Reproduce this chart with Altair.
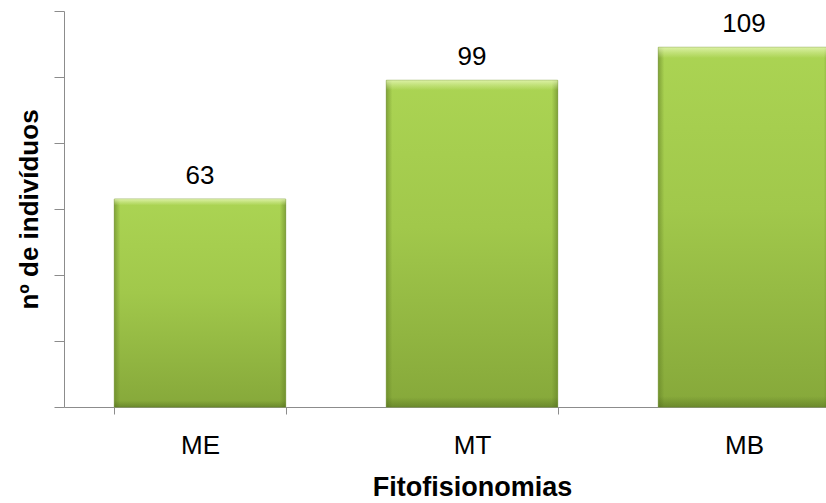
import altair as alt
import pandas as pd

# Número de indivíduos por fitofisionomia
categorias = ["ME", "MT", "MB"]
individuos = [63, 99, 109]
y_ticks = [0, 20, 40, 60, 80, 100, 120]

df = pd.DataFrame({"fito": categorias, "n": individuos})

FONT = "Liberation Sans"
AXIS_GREY = "#8c8c8c"

x_enc = alt.X(
    "fito:N",
    sort=categorias,
    scale=alt.Scale(range=[0, 816], paddingInner=0.37, paddingOuter=0.185),
    axis=alt.Axis(
        title="Fitofisionomias",
        labelAngle=0,
        tickBand="extent",
        tickSize=7,
        tickColor=AXIS_GREY,
        domainColor=AXIS_GREY,
        labelFont=FONT,
        labelFontSize=26,
        labelColor="#000000",
        labelBaseline="alphabetic",
        labelPadding=39,
        titleFont=FONT,
        titleFontSize=27,
        titleFontWeight="bold",
        titleColor="#000000",
        titleX=408,
        titleY=88,
        titleAlign="center",
        titleBaseline="alphabetic",
    ),
)
x_plain = alt.X("fito:N", sort=categorias)

y_enc = alt.Y(
    "n:Q",
    scale=alt.Scale(domain=[0, 120], nice=False),
    axis=alt.Axis(
        title="nº de indivíduos",
        values=y_ticks,
        labels=False,
        grid=False,
        tickSize=10,
        tickColor=AXIS_GREY,
        domainColor=AXIS_GREY,
        titleFont=FONT,
        titleFontSize=26,
        titleFontWeight="bold",
        titleColor="#000000",
        titleX=-27,
        titleY=198,
        titleAngle=270,
        titleAlign="center",
        titleBaseline="alphabetic",
    ),
)

# main fill: light lime on top, darker olive toward the base
body_fill = alt.Gradient(
    gradient="linear",
    x1=0, x2=0, y1=0, y2=1,
    stops=[
        alt.GradientStop(color="#abd453", offset=0),
        alt.GradientStop(color="#a1c84b", offset=0.45),
        alt.GradientStop(color="#86a83a", offset=1),
    ],
)

# darker side edges for the bevel look
side_fill = alt.Gradient(
    gradient="linear",
    x1=0, x2=1, y1=0, y2=0,
    stops=[
        alt.GradientStop(color="rgba(95,125,35,0.55)", offset=0),
        alt.GradientStop(color="rgba(95,125,35,0)", offset=0.035),
        alt.GradientStop(color="rgba(95,125,35,0)", offset=0.965),
        alt.GradientStop(color="rgba(95,125,35,0.55)", offset=1),
    ],
)

# light top edge and slightly darker foot
top_fill = alt.Gradient(
    gradient="linear",
    x1=0, x2=0, y1=0, y2=1,
    stops=[
        alt.GradientStop(color="rgba(235,250,190,0.75)", offset=0),
        alt.GradientStop(color="rgba(235,250,190,0.35)", offset=0.015),
        alt.GradientStop(color="rgba(235,250,190,0)", offset=0.03),
        alt.GradientStop(color="rgba(60,85,20,0)", offset=0.97),
        alt.GradientStop(color="rgba(60,85,20,0.35)", offset=1),
    ],
)

base = alt.Chart(df)

bars = base.mark_bar(color=body_fill, stroke="#7f9f38", strokeWidth=0.8).encode(
    x=x_enc, y=y_enc
)
sides = base.mark_bar(color=side_fill).encode(x=x_plain, y="n:Q")
tops = base.mark_bar(color=top_fill).encode(x=x_plain, y="n:Q")

labels = base.mark_text(
    dy=-15, baseline="alphabetic", font=FONT, fontSize=26, color="#000000"
).encode(x=x_plain, y="n:Q", text="n:Q")

chart = (
    alt.layer(bars, sides, tops, labels)
    .properties(
        width=762,
        height=396,
        autosize=alt.AutoSizeParams(type="none"),
        padding={"left": 64, "top": 11, "right": 0, "bottom": 96},
        background="#ffffff",
    )
    .configure_view(stroke=None)
)

chart.save("out.html", embed_options={"renderer": "svg", "actions": False})
